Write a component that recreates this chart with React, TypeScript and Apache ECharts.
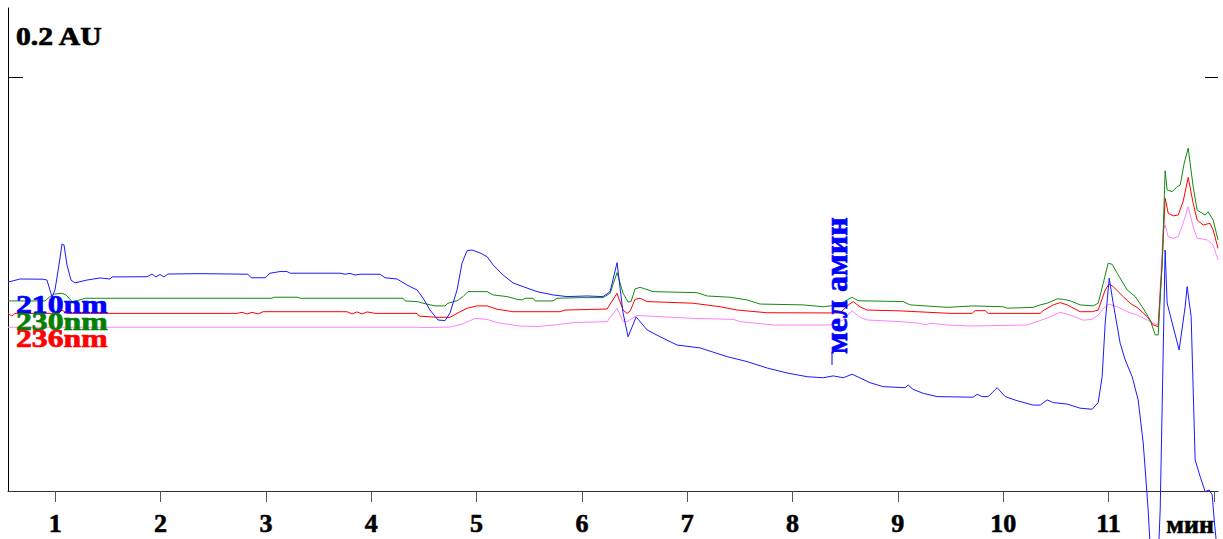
import { useEffect, useRef } from "react";
import * as echarts from "echarts";

// Axis extents (minutes, mAU)
const X_MIN = 0.551;
const X_MAX = 12.04;
const Y_MIN = 0;
const Y_MAX = 233.3;

const xTickValues = [1, 2, 3, 4, 5, 6, 7, 8, 9, 10, 11, 12];
const xLabelValues = [1, 2, 3, 4, 5, 6, 7, 8, 9, 10, 11];
const yTickValues = [200];

const scaleLabel = "0.2 AU";
const unitLabel = "мин";
const peakLabel = "мел амин";
const traceNames = ["210nm", "230nm", "236nm"];

// [time (min), absorbance (mAU)]
const blue210: [number, number][] = [
  [0.551, 101.0], [0.598, 101.5], [0.665, 102.4], [0.883, 102.3], [0.921, 101.9], [0.969, 93.7], [0.997, 97.1],
  [1.035, 109.2], [1.064, 119.3], [1.083, 118.8], [1.111, 109.2], [1.149, 101.9], [1.187, 100.5], [1.301, 101.9],
  [1.425, 102.9], [1.519, 102.4], [1.538, 103.4], [1.871, 103.5], [1.918, 104.8], [1.956, 103.4], [1.994, 104.6],
  [2.032, 103.4], [2.070, 104.8], [2.374, 105.0], [2.830, 104.7], [2.859, 103.0], [2.992, 103.0], [3.039, 105.2],
  [3.134, 106.0], [3.200, 106.0], [3.229, 105.2], [3.704, 105.2], [3.751, 104.7], [3.799, 105.1], [3.846, 104.3],
  [3.894, 104.7], [4.084, 104.7], [4.131, 103.0], [4.245, 102.4], [4.340, 99.5], [4.435, 97.1], [4.492, 93.2],
  [4.558, 87.4], [4.634, 82.6], [4.701, 82.3], [4.748, 86.0], [4.815, 97.1], [4.862, 110.1], [4.910, 116.1],
  [4.957, 116.4], [5.033, 115.0], [5.100, 113.2], [5.157, 109.2], [5.252, 104.3], [5.347, 100.5], [5.442, 98.7],
  [5.575, 96.3], [5.726, 94.7], [5.859, 93.9], [6.049, 94.2], [6.201, 93.9], [6.268, 96.3], [6.334, 110.3],
  [6.391, 86.0], [6.439, 74.5], [6.515, 84.1], [6.619, 77.8], [6.743, 74.5], [6.904, 70.5], [7.123, 69.1],
  [7.379, 64.9], [7.569, 62.5], [7.759, 59.4], [7.949, 57.0], [8.139, 55.2], [8.291, 54.7], [8.386, 55.6],
  [8.481, 54.7], [8.566, 56.4], [8.642, 54.6], [8.737, 52.3], [8.861, 50.4], [9.069, 49.9], [9.098, 51.2],
  [9.145, 49.1], [9.240, 47.2], [9.373, 45.6], [9.715, 45.3], [9.753, 46.7], [9.801, 45.6], [9.858, 45.6],
  [9.943, 49.9], [10.019, 45.6], [10.133, 43.6], [10.285, 41.5], [10.352, 41.5], [10.418, 44.0], [10.475, 42.7],
  [10.608, 42.0], [10.731, 40.0], [10.845, 39.5], [10.902, 42.7], [10.940, 55.2], [10.969, 81.2], [11.007, 102.8],
  [11.045, 90.7], [11.111, 71.4], [11.159, 63.3], [11.225, 55.2], [11.282, 44.0], [11.330, 23.2], [11.377, -9.2],
  [11.415, -45], [11.463, -45], [11.491, -9.2], [11.538, 116.4], [11.557, 90.8], [11.605, 81.2], [11.671, 68.1],
  [11.728, 89.0], [11.747, 98.7], [11.785, 84.2], [11.823, 15.0], [11.871, 6.9], [11.918, -0.3], [11.956, 0.5],
  [11.985, -1.9], [12.004, -14], [12.04, -33],
];

const green230: [number, number][] = [
  [0.551, 91.8], [0.902, 91.8], [0.950, 93.9], [0.997, 95.2], [1.064, 95.5], [1.102, 94.7], [1.159, 91.5],
  [1.235, 92.3], [1.282, 93.1], [3.058, 93.1], [3.077, 93.6], [3.305, 93.6], [3.324, 93.1], [4.302, 93.1],
  [4.321, 91.8], [4.435, 91.5], [4.492, 90.7], [4.606, 89.4], [4.701, 89.4], [4.729, 90.7], [4.815, 91.9],
  [4.872, 93.9], [4.919, 96.3], [5.100, 96.3], [5.157, 94.7], [5.290, 93.9], [5.385, 92.6], [5.432, 92.3],
  [5.461, 93.1], [5.537, 93.1], [5.556, 91.8], [5.726, 91.8], [5.764, 93.1], [5.983, 93.4], [6.201, 93.4],
  [6.268, 95.5], [6.334, 105.5], [6.391, 95.5], [6.439, 91.3], [6.467, 91.5], [6.505, 97.6], [6.553, 98.4],
  [6.676, 96.3], [7.094, 95.8], [7.189, 94.2], [7.407, 93.6], [7.569, 92.3], [7.692, 90.3], [8.101, 89.9],
  [8.291, 89.0], [8.433, 89.9], [8.519, 92.3], [8.566, 93.6], [8.623, 91.9], [9.050, 91.5], [9.117, 89.9],
  [9.468, 88.7], [9.715, 89.4], [10.000, 89.0], [10.038, 88.3], [10.285, 88.7], [10.352, 89.9], [10.418, 90.7],
  [10.513, 92.8], [10.570, 92.6], [10.636, 91.9], [10.731, 89.9], [10.855, 89.4], [10.902, 90.7], [10.950, 100.3],
  [10.997, 110.0], [11.035, 109.5], [11.083, 105.2], [11.178, 97.1], [11.254, 93.9], [11.320, 89.0], [11.396, 82.6],
  [11.444, 75.4], [11.472, 75.4], [11.510, 110.0], [11.538, 154.7], [11.557, 145.4], [11.605, 144.6], [11.652, 147.0],
  [11.681, 147.8], [11.719, 158.3], [11.757, 165.6], [11.804, 147.0], [11.842, 135.7], [11.918, 133.3],
  [11.946, 134.9], [11.994, 130.9], [12.04, 121.3],
];

const red236: [number, number][] = [
  [0.551, 85.8], [0.589, 84.5], [0.617, 85.8], [0.950, 85.8], [1.016, 85.0], [1.064, 87.4], [1.111, 85.8],
  [2.725, 85.8], [2.773, 86.3], [2.821, 85.5], [2.868, 86.3], [2.925, 85.5], [2.973, 86.6], [3.770, 86.6],
  [3.818, 85.5], [3.865, 86.5], [3.913, 85.5], [3.960, 86.5], [4.036, 85.8], [4.435, 85.8], [4.454, 84.5],
  [4.625, 83.9], [4.748, 83.9], [4.815, 85.8], [4.910, 88.3], [5.005, 89.4], [5.100, 89.4], [5.195, 87.8],
  [5.347, 86.6], [5.793, 86.6], [5.840, 87.4], [6.239, 87.9], [6.334, 95.5], [6.391, 87.4], [6.429, 85.8],
  [6.458, 86.9], [6.505, 92.6], [6.553, 93.1], [6.619, 91.5], [7.056, 90.7], [7.313, 89.0], [7.474, 87.4],
  [7.759, 86.1], [8.452, 86.0], [8.519, 89.4], [8.576, 91.5], [8.642, 88.9], [8.709, 87.4], [9.022, 87.0],
  [9.497, 85.8], [9.706, 85.8], [9.734, 87.1], [9.830, 87.1], [9.858, 85.8], [10.352, 85.8], [10.380, 87.1],
  [10.475, 89.9], [10.541, 91.0], [10.608, 89.9], [10.731, 86.6], [10.845, 86.6], [10.902, 87.4], [10.969, 97.1],
  [11.007, 100.0], [11.045, 98.7], [11.140, 93.9], [11.206, 90.7], [11.282, 88.3], [11.368, 84.2], [11.425, 80.2],
  [11.472, 79.4], [11.510, 110.0], [11.538, 141.4], [11.567, 134.2], [11.615, 132.9], [11.662, 133.3],
  [11.709, 139.8], [11.757, 151.5], [11.804, 139.0], [11.842, 130.9], [11.899, 128.5], [11.965, 129.3],
  [11.994, 126.1], [12.04, 117.2],
];

const pinkTrace: [number, number][] = [
  [0.551, 79.1], [4.463, 79.1], [4.482, 78.9], [4.748, 79.2], [4.872, 80.7], [4.986, 83.4], [5.100, 82.9],
  [5.195, 81.3], [5.413, 79.7], [5.575, 79.4], [5.793, 80.5], [5.916, 81.3], [6.239, 81.8], [6.334, 88.3],
  [6.391, 81.8], [6.429, 81.8], [6.524, 84.8], [6.743, 84.2], [7.056, 83.4], [7.436, 82.9], [7.502, 81.8],
  [7.816, 80.2], [8.357, 80.2], [8.481, 82.6], [8.566, 87.0], [8.642, 83.9], [8.709, 82.6], [9.022, 81.8],
  [9.212, 81.0], [9.260, 80.2], [9.307, 81.0], [9.468, 80.2], [9.687, 79.7], [10.228, 80.2], [10.323, 81.8],
  [10.447, 84.2], [10.541, 86.3], [10.636, 85.0], [10.760, 82.5], [10.845, 82.9], [10.902, 85.0], [10.969, 89.0],
  [11.007, 90.3], [11.083, 89.0], [11.178, 86.6], [11.273, 85.0], [11.368, 82.6], [11.425, 81.0], [11.472, 80.2],
  [11.520, 126.1], [11.538, 128.5], [11.567, 122.9], [11.615, 122.1], [11.662, 122.9], [11.709, 129.3],
  [11.757, 137.3], [11.804, 127.7], [11.842, 122.1], [11.937, 121.3], [11.994, 118.8], [12.04, 111.6],
];

const FONT = '"Liberation Serif", "Times New Roman", serif';

export default function App() {
  const ref = useRef<HTMLDivElement>(null);

  useEffect(() => {
    if (!ref.current) return;
    const chart = echarts.init(ref.current, undefined, { renderer: "svg" });

    const lineSeries = (name: string, data: [number, number][], color: string, clip = true) => ({
      type: "line",
      name,
      data,
      showSymbol: false,
      symbol: "none",
      clip,
      silent: true,
      lineStyle: { color, width: 1 },
      itemStyle: { color },
      emphasis: { disabled: true },
    });

    const yAxisBase = {
      type: "value",
      min: Y_MIN,
      max: Y_MAX,
      axisLabel: { show: false },
      splitLine: { show: false },
    };

    const boldText = (text: string, color: string, size: number) => ({
      text,
      fill: color,
      stroke: color,
      lineWidth: 0.7,
      font: `bold ${size}px ${FONT}`,
      align: "left",
      verticalAlign: "middle",
    });

    const legendText = (text: string, y: number, color: string) => ({
      type: "text",
      x: 16,
      y,
      scaleX: 1.22,
      z: 100,
      style: boldText(text, color, 26),
    });

    const axisFont = {
      fontFamily: FONT,
      fontWeight: "bold",
      fontSize: 26,
      color: "#000000",
      textBorderColor: "#000000",
      textBorderWidth: 0.6,
    };

    chart.setOption({
      animation: false,
      backgroundColor: "#ffffff",
      grid: { left: 8, right: 5, top: 8, bottom: 48, containLabel: false },
      xAxis: {
        type: "value",
        min: X_MIN,
        max: X_MAX,
        axisLine: { show: true, onZero: false, lineStyle: { color: "#333333", width: 1 } },
        axisTick: { show: true, customValues: xTickValues, length: 11, lineStyle: { color: "#555555" } },
        axisLabel: { customValues: xLabelValues, margin: 19, ...axisFont },
        splitLine: { show: false },
        name: unitLabel,
        nameLocation: "end",
        nameGap: -4,
        nameTextStyle: { align: "right", verticalAlign: "top", padding: [20, 0, 0, 0], ...axisFont },
      },
      yAxis: [
        {
          ...yAxisBase,
          position: "left",
          axisLine: { show: true, lineStyle: { color: "#000000", width: 1 } },
          axisTick: { show: true, inside: true, length: 15, customValues: yTickValues, lineStyle: { color: "#000000" } },
        },
        {
          ...yAxisBase,
          position: "right",
          axisLine: { show: false },
          axisTick: { show: true, inside: true, length: 13, customValues: yTickValues, lineStyle: { color: "#000000" } },
        },
      ],
      series: [
        lineSeries("", pinkTrace, "#ff80ff"),
        lineSeries(traceNames[2], red236, "#ff0000"),
        lineSeries(traceNames[1], green230, "#128a12"),
        lineSeries(traceNames[0], blue210, "#1a1aff", false),
      ],
      graphic: [
        {
          type: "text",
          x: 16,
          y: 36,
          scaleX: 1.14,
          z: 100,
          style: boldText(scaleLabel, "#000000", 26),
        },
        legendText(traceNames[0], 304, "#0000ff"),
        legendText(traceNames[1], 321, "#008000"),
        legendText(traceNames[2], 338, "#ff0000"),
        {
          type: "text",
          x: 836,
          y: 354,
          rotation: Math.PI / 2,
          z: 100,
          style: boldText(peakLabel, "#0000ff", 32),
        },
        {
          type: "line",
          z: 100,
          shape: { x1: 832, y1: 352, x2: 832, y2: 365 },
          style: { stroke: "#0000ff", lineWidth: 1 },
        },
      ],
    });

    return () => chart.dispose();
  }, []);

  return (
    <div
      ref={ref}
      style={{ position: "fixed", left: 0, top: 0, width: 1223, height: 539, background: "#fff" }}
    />
  );
}
